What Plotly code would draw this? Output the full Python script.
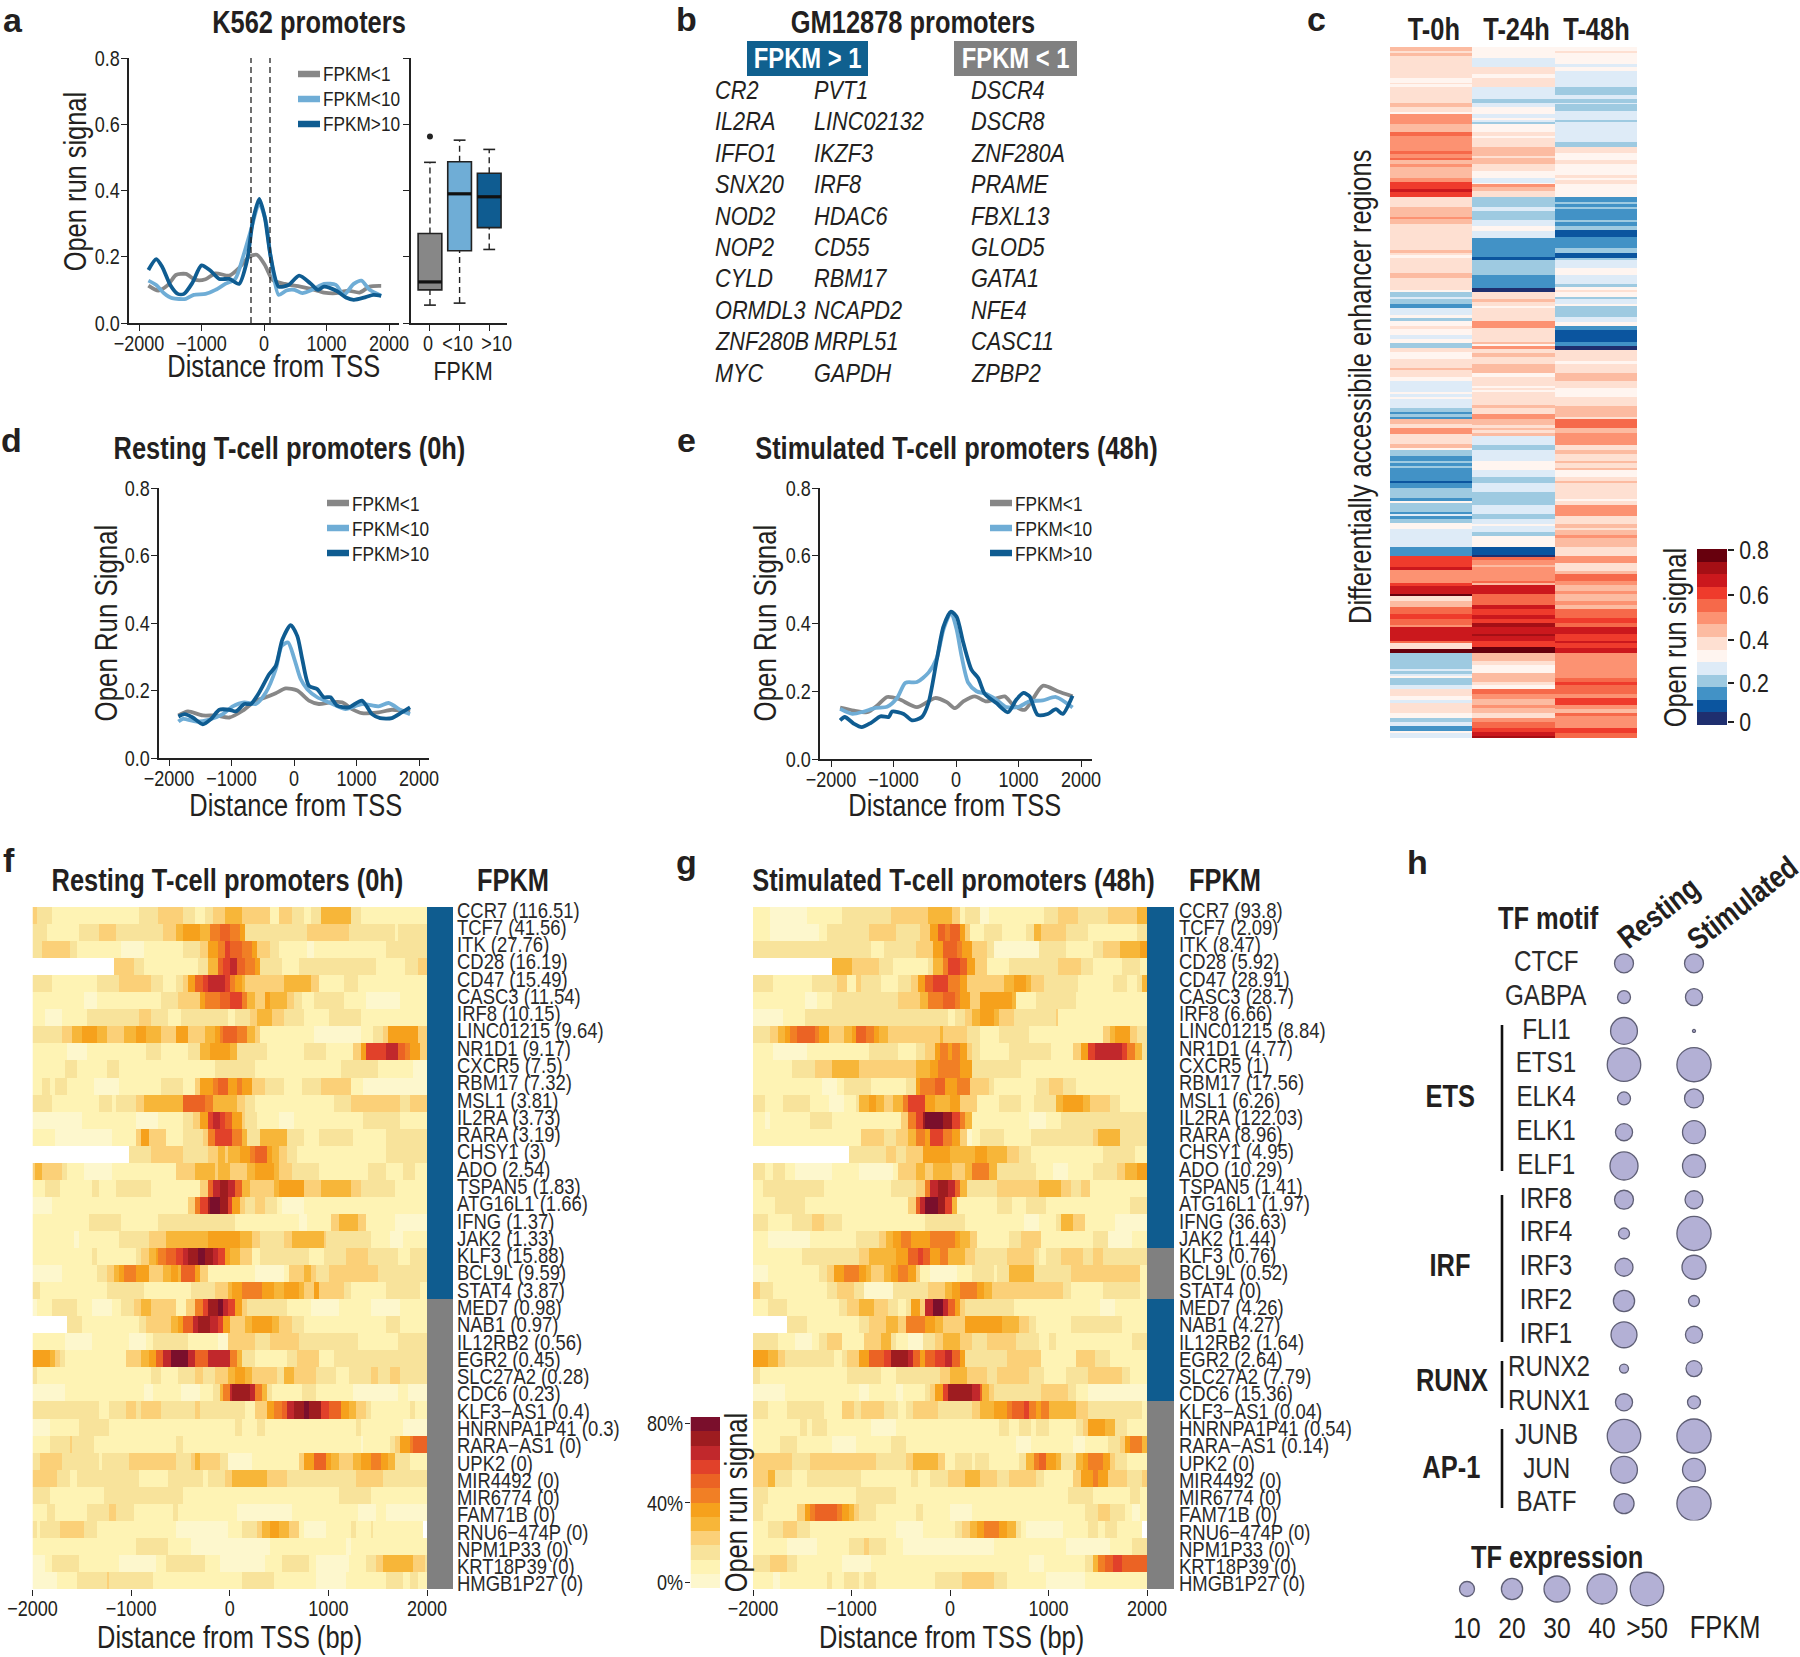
import numpy as np
import plotly.graph_objects as go

W, H = 1800, 1657
NARROW = "Liberation Sans"
INK = "#231f20"
DARK, LIGHT, GREY = "#0f5c91", "#6fadd6", "#878787"
TITLE = 31

# ---- line profiles: panel a ----
a_dark_x = [-1850,-1725,-1630,-1500,-1380,-1280,-1150,-1000,-870,-715,-555,-400,-270,-177,-76,12,107,234,392,562,740,866,960,1150,1310,1435,1625,1750,1875]
a_dark_y = [.16,.193,.17,.115,.088,.088,.12,.174,.16,.133,.133,.118,.19,.31,.375,.32,.2,.11,.115,.143,.12,.1,.11,.098,.077,.07,.078,.085,.082]
a_light_x = [-1850,-1725,-1600,-1470,-1250,-1125,-935,-777,-620,-460,-335,-210,-76,25,107,234,360,487,613,770,960,1150,1276,1435,1560,1690,1875]
a_light_y = [.128,.115,.09,.075,.073,.085,.088,.1,.118,.133,.2,.28,.362,.31,.2,.085,.098,.1,.09,.1,.118,.115,.085,.118,.128,.1,.082]
a_grey_x = [-1850,-1690,-1535,-1410,-1250,-1095,-935,-777,-555,-400,-240,-114,12,139,329,582,770,960,1150,1340,1530,1690,1875]
a_grey_y = [.113,.098,.115,.145,.148,.13,.132,.15,.143,.166,.2,.206,.176,.13,.118,.11,.102,.092,.09,.098,.092,.11,.112]
# ---- panel d ----
d_dark_x = [-1850,-1750,-1620,-1460,-1325,-1195,-1035,-930,-795,-690,-557,-398,-292,-186,-53,53,133,239,371,477,583,690,875,1087,1247,1379,1565,1724,1857]
d_dark_y = [.123,.13,.12,.10,.116,.143,.143,.138,.16,.16,.194,.248,.273,.351,.394,.361,.292,.214,.204,.18,.18,.155,.15,.17,.13,.118,.118,.135,.15]
d_light_x = [-1850,-1777,-1565,-1353,-1140,-981,-795,-610,-451,-292,-196,-95,0,106,212,371,557,822,1087,1353,1512,1724,1857]
d_light_y = [.108,.116,.108,.114,.13,.153,.165,.16,.194,.263,.332,.342,.297,.234,.204,.18,.165,.145,.16,.153,.163,.14,.13]
d_grey_x = [-1850,-1697,-1460,-1247,-1035,-822,-610,-451,-292,-133,53,239,398,583,769,928,1087,1353,1565,1857]
d_grey_y = [.126,.138,.126,.126,.12,.14,.17,.18,.192,.206,.2,.17,.16,.165,.165,.145,.133,.135,.143,.137]
# ---- panel e ----
e_dark_x = [-1854,-1780,-1632,-1510,-1367,-1208,-1075,-1022,-837,-705,-546,-440,-307,-201,-80,10,117,249,355,461,646,832,964,1080,1176,1308,1467,1600,1706,1865]
e_dark_y = [.114,.124,.104,.094,.106,.126,.124,.14,.133,.114,.124,.166,.293,.391,.435,.42,.343,.263,.239,.192,.165,.138,.175,.195,.185,.13,.133,.147,.133,.187]
e_light_x = [-1854,-1658,-1473,-1287,-1102,-943,-810,-625,-440,-307,-201,-80,10,90,196,328,487,646,805,990,1176,1388,1600,1865]
e_light_y = [.148,.133,.14,.151,.154,.18,.225,.227,.255,.298,.382,.432,.382,.303,.225,.2,.192,.175,.153,.153,.17,.173,.183,.152]
e_grey_x = [-1854,-1632,-1420,-1260,-1102,-916,-625,-334,-148,-16,117,302,487,779,911,1097,1388,1626,1865]
e_grey_y = [.152,.143,.138,.158,.183,.177,.153,.18,.168,.15,.17,.185,.17,.185,.16,.145,.216,.2,.185]

legend_labels = ["FPKM<1", "FPKM<10", "FPKM>10"]

# ---- boxplot panel a ----
box_labels = ["0", "<10", ">10"]
box_low = [.054, .06, .222]
box_q1 = [.10, .218, .288]
box_med = [.124, .39, .381]
box_q3 = [.27, .487, .452]
box_high = [.485, .552, .524]
box_outlier = [.563]

# ---- panel b ----
b_up_col1 = ["CR2","IL2RA","IFFO1","SNX20","NOD2","NOP2","CYLD","ORMDL3","ZNF280B","MYC"]
b_up_col2 = ["PVT1","LINC02132","IKZF3","IRF8","HDAC6","CD55","RBM17","NCAPD2","MRPL51","GAPDH"]
b_down = ["DSCR4","DSCR8","ZNF280A","PRAME","FBXL13","GLOD5","GATA1","NFE4","CASC11","ZPBP2"]

# ---- panel c: runs of (last row, colour level) ----
c_levels = ["#1f2f6f","#0b559f","#4292c6","#9ecae1","#deebf7","#fff5f0","#fee0d2","#fcbba1","#fc9272","#f6694a","#ef3b2c","#cb181d","#a50f15","#67000d"]
c_t0 = [4,7,6,6,9,7,31,6,36,5,37,6,40,5,56,6,60,7,65,6,67,5,77,8,85,7,89,9,104,8,107,9,111,8,113,9,117,7,120,8,131,7,135,8,139,10,142,10,145,11,150,10,160,6,170,7,172,8,177,7,203,6,206,7,208,6,211,5,226,6,231,7,
        243,6,245,5,250,3,252,4,257,3,261,2,268,4,271,5,274,3,279,5,282,6,288,5,292,4,296,5,301,3,305,6,312,5,321,6,323,7,330,6,334,5,345,4,347,5,350,4,352,5,361,4,365,3,367,2,370,3,372,2,377,7,381,6,387,8,395,6,397,6,401,7,403,5,409,3,414,2,416,3,419,2,421,3,434,2,436,1,441,2,451,3,454,2,456,5,465,3,
        467,2,469,4,472,2,476,3,482,5,500,4,509,2,520,10,523,11,536,8,539,10,547,11,549,13,554,6,560,7,567,9,572,10,578,9,580,8,594,11,596,9,602,6,606,13,622,3,624,4,627,3,629,4,631,5,638,3,642,4,649,6,653,5,656,4,666,6,671,5,675,3,679,4,684,2,686,5,691,4]
c_t24 = [11,5,20,4,27,6,31,5,40,6,52,4,56,3,60,4,67,5,71,4,73,5,75,4,77,3,85,5,89,6,91,5,100,6,109,7,111,6,117,7,124,6,131,5,136,4,137,5,140,8,144,7,150,6,160,3,164,4,173,3,179,4,184,5,191,4,210,2,213,1,228,3,
         241,2,245,0,252,6,255,7,259,6,261,5,274,6,281,8,295,6,297,7,299,5,302,8,306,6,310,7,317,6,326,7,330,5,339,6,341,5,343,6,345,5,358,6,361,7,367,6,372,8,378,7,381,6,383,7,386,6,389,7,398,4,403,3,414,4,423,5,430,4,436,3,445,4,458,3,465,4,
         467,4,472,3,477,4,479,5,485,4,489,3,500,5,508,1,510,0,513,9,518,8,520,7,534,8,536,9,538,7,547,11,558,9,562,11,568,10,572,11,576,10,580,12,587,11,589,12,594,11,600,10,606,13,614,7,618,6,626,5,635,7,638,6,642,5,647,9,652,8,658,7,661,8,666,7,671,6,675,8,681,9,685,10,689,11,691,12]
c_t48 = [4,5,6,6,17,5,20,4,24,5,40,4,48,3,52,4,56,3,57,4,64,3,73,4,75,3,95,4,100,3,106,6,113,5,117,6,128,5,131,6,133,5,137,6,150,5,155,2,157,3,160,2,162,3,173,2,175,3,179,2,183,3,190,1,201,2,206,3,211,1,213,3,221,4,228,5,233,4,
         237,4,240,3,243,5,245,6,250,5,252,3,257,4,259,5,270,3,275,4,279,5,283,2,295,1,299,2,303,0,314,6,317,5,326,6,334,7,341,6,350,5,359,6,370,7,372,6,381,9,386,7,398,8,403,6,407,7,414,6,416,7,421,6,423,7,430,5,434,6,436,7,452,6,454,5,458,6,465,8,
         469,8,477,6,481,7,483,6,488,7,491,8,500,7,509,6,516,8,524,6,527,7,534,9,538,8,544,7,547,8,554,7,558,8,562,7,571,9,576,10,580,9,587,11,594,10,596,11,601,10,606,11,631,8,635,9,638,10,647,9,651,8,658,10,662,8,666,7,669,9,681,8,686,10,691,9]
c_columns = ["T-0h", "T-24h", "T-48h"]

# ---- panels f, g ----
heat_levels = ["#fdf7cd","#fef3b4","#f8e39b","#fbd078","#f7b639","#f6a11c","#f17f25","#eb6324","#e1412a","#c1282c","#9e1c20","#7a0f2c"]
genes = ["CCR7","TCF7","ITK","CD28","CD47","CASC3","IRF8","LINC01215","NR1D1","CXCR5","RBM17","MSL1","IL2RA","RARA","CHSY1","ADO","TSPAN5","ATG16L1","IFNG","JAK2","KLF3","BCL9L","STAT4","MED7","NAB1","IL12RB2","EGR2","SLC27A2","CDC6","KLF3\u2212AS1","HNRNPA1P41","RARA\u2212AS1","UPK2","MIR4492","MIR6774","FAM71B","RNU6\u2212474P","NPM1P33","KRT18P39","HMGB1P27"]
f_fpkm = [116.51,41.56,27.76,16.19,15.49,11.54,10.15,9.64,9.17,7.5,7.32,3.81,3.73,3.19,3,2.54,1.83,1.66,1.37,1.33,15.88,9.59,3.87,.98,.97,.56,.45,.28,.23,.4,.3,0,0,0,0,0,0,0,0,0]
g_fpkm = [93.8,2.09,8.47,5.92,28.91,28.7,6.66,8.84,4.77,1,17.56,6.26,122.03,8.96,4.95,10.29,1.41,1.97,36.63,1.44,.76,.52,0,4.26,4.27,1.64,2.64,7.79,15.36,.04,.54,.14,0,0,0,0,0,0,0,0]

# rows as flat runs: end position (bp), level (-1 = no data)
f_rows = [
[-1950,3,-1790,2,-920,1,-713,2,-464,3,-360,2,-257,1,-174,2,-58,3,116,4,406,3,510,1,613,3,738,2,820,1,924,2,1235,4,1318,2,2000,1],
[-1853,2,-1521,1,-1314,2,-1160,3,-671,2,-547,3,-464,4,-298,5,-195,4,-112,6,-8,7,95,6,157,5,779,2,1194,3,1670,2,1712,1,2000,2],
[-1894,2,-1625,3,-1550,2,-1107,1,-879,0,-485,1,-298,2,-236,3,-133,5,-50,6,12,8,137,7,220,6,282,5,406,3,489,2,779,1,862,0,1567,1,2000,2],
[-1181,-1,-982,3,-870,2,-319,1,-236,2,-133,4,-70,7,12,8,75,9,157,7,240,6,303,5,520,2,688,1,1463,2,1774,1,1898,2,2000,3],
[-1791,2,-1355,1,-1119,2,-796,3,-671,2,-547,1,-473,2,-415,3,-348,5,-278,7,-216,8,-50,9,-8,8,54,6,116,5,157,4,551,3,821,4,895,3,1144,1,1297,2,2000,1],
[-1480,1,-1355,0,-705,1,-526,2,-298,3,-257,5,-91,6,12,7,116,8,178,6,261,4,344,3,406,5,584,4,655,3,717,2,854,1,1152,2,1380,1,1733,0,2000,1],
[-1873,1,-1708,0,-1459,1,-920,2,-796,3,-622,2,-497,1,-29,2,54,1,207,2,282,3,414,4,539,3,738,2,1007,1,1331,2,2000,1],
[-1708,2,-1592,3,-1500,4,-1343,5,-1244,4,-1086,3,-953,4,-846,5,-692,4,-539,3,-431,5,-257,3,-153,4,-112,5,-70,6,75,7,178,6,240,4,303,3,862,1,1318,0,1442,1,1546,2,1608,3,1898,5,2000,3],
[-1646,1,-1438,0,-858,1,-705,2,-415,1,-298,2,-207,4,12,5,83,4,373,2,759,1,986,2,1256,1,1318,3,1380,5,1587,8,1712,9,1774,7,1836,6,1919,5,2000,3],
[-1666,1,-1542,2,-1260,1,-1119,2,-141,1,261,2,1119,1,1505,2,1857,1,2000,0],
[-1907,1,-1832,2,-1770,1,-1646,2,-1376,1,-1127,0,-705,1,-485,2,-360,1,-298,3,-166,5,-124,6,-17,7,75,5,137,6,220,5,344,3,539,2,717,1,924,2,1007,3,1235,3,1360,1,2000,0],
[-1791,2,-1314,1,-1210,2,-1148,1,-962,2,-887,3,-622,4,-485,4,-257,7,-174,6,83,4,157,3,240,2,1049,1,1215,2,1724,3,1828,2,2000,3],
[-1500,0,-941,1,-734,0,-464,1,-381,2,-298,3,-216,5,-174,8,-91,9,-41,8,33,7,116,5,157,3,282,2,489,1,655,0,1339,1,1733,2,2000,1],
[-1770,1,-1190,0,-941,1,-899,3,-817,5,-651,3,-464,1,-278,2,-216,3,-153,6,33,8,116,6,178,4,303,2,572,4,759,2,904,1,1256,2,1567,1,2000,2],
[-1024,-1,-788,2,-464,3,-236,2,-133,3,-58,4,-29,3,108,4,199,5,240,6,385,7,427,5,489,4,572,3,676,2,1587,1,2000,2],
[-1965,3,-1894,4,-1700,3,-1646,2,-1480,1,-1210,0,-547,1,-348,3,-153,4,-133,3,12,4,166,3,240,4,439,5,510,4,634,3,904,2,1401,1,1587,2,1753,1,1878,2,2000,1],
[-1873,1,-1716,2,-1397,1,-1314,2,-1148,1,-796,2,-298,1,-236,3,-174,7,-91,9,-29,10,54,9,116,7,207,4,439,3,489,4,759,5,924,3,1235,4,1318,3,1670,2,2000,1],
[-1799,0,-423,1,-348,3,-290,6,-236,8,-195,10,-112,11,-29,10,33,8,95,5,157,3,240,2,344,3,468,2,530,1,738,0,2000,1],
[-1426,1,-1107,2,-734,1,54,2,696,1,779,0,1028,1,1090,3,1310,4,1380,3,1670,1,2000,0],
[-1583,1,-1521,0,-1119,1,-837,2,-651,3,-216,4,108,5,220,4,303,3,551,2,622,3,945,4,986,3,1422,2,1629,1,1753,0,2000,1],
[-1397,1,-1343,2,-962,1,-899,2,-817,3,-754,4,-713,5,-651,6,-547,7,-485,8,-423,9,-332,10,-257,11,-174,10,-124,9,-58,8,12,5,95,4,220,3,303,1,800,2,945,1,1173,2,1393,3,1712,2,1815,1,2000,2],
[-1708,0,-1343,1,-1244,2,-1177,3,-1127,4,-1065,5,-962,6,-837,5,-680,3,-609,4,-526,5,-506,4,-360,7,-298,5,-236,3,240,1,539,0,593,1,759,3,821,4,883,3,1007,2,1505,3,2000,2],
[-1936,2,-1244,1,-879,2,-402,1,-141,2,-29,3,33,4,116,5,315,6,456,5,551,4,688,5,759,4,862,3,895,5,1144,3,1214,2,1567,1,1932,2,2000,1],
[-1948,0,-1799,1,-1550,2,-1409,1,-1190,0,-1107,1,-970,2,-899,3,-804,4,-547,3,-444,1,-360,3,-278,6,-216,8,-133,10,-70,11,-29,9,54,8,116,5,178,3,564,2,829,1,1111,0,1422,1,1733,0,2000,1],
[-1654,-1,-1500,2,-920,1,-846,2,-609,3,-526,4,-464,5,-381,7,-319,9,-195,10,-133,9,-70,8,-8,5,157,3,220,4,427,5,489,4,613,3,738,2,1567,1,1733,2,2000,1],
[-1687,1,-1409,0,-1024,1,-858,0,-775,1,-415,2,-133,1,-29,0,261,3,406,2,696,3,1297,2,1712,1,2000,2],
[-1832,5,-1770,4,-1716,3,-1666,2,-1045,1,-899,3,-817,4,-754,5,-684,7,-609,9,-423,11,-348,9,-236,7,12,9,75,6,137,4,240,2,572,1,663,2,895,3,1049,1,2000,2],
[-1948,2,-788,1,-705,2,-526,1,-348,2,-278,3,-141,2,-29,3,54,4,157,5,220,4,468,3,539,2,647,4,870,3,1069,2,1194,1,1422,2,1505,3,1629,2,1733,3,2000,2],
[-1687,0,-879,1,-763,0,-497,1,-298,0,-174,1,-112,2,-70,4,-8,6,33,9,199,10,261,9,323,6,385,4,427,2,730,1,870,2,1256,1,1712,0,1795,1,2000,0],
[-1335,2,-1231,1,-1045,2,-953,3,-912,2,-705,3,-348,2,-307,3,157,2,240,1,373,3,456,5,531,6,572,7,647,9,738,10,800,11,924,10,1007,8,1132,7,1202,5,1277,4,1380,3,1422,2,1815,1,1878,2,2000,1],
[-1832,0,-1521,1,-1231,2,54,1,116,2,282,1,344,2,1277,1,1326,2,1753,1,2000,0],
[-1832,1,-1625,2,-1604,3,-1368,2,-547,1,-464,2,1326,1,1360,0,1617,1,1670,2,1733,3,1815,5,1849,6,2000,7],
[-1923,2,-1700,3,-1314,2,-1293,1,-1024,2,-539,3,-402,2,-348,3,-290,4,-112,3,-29,2,220,0,696,1,759,3,841,5,986,7,1036,5,1103,4,1256,3,1318,4,1422,5,1525,6,1600,5,1670,4,1828,2,2000,1],
[-1741,3,-1633,2,-1550,1,-920,2,-630,1,-278,2,-236,1,-58,2,25,3,373,4,584,3,1277,2,1546,3,2000,2],
[-1832,2,-1273,1,-485,2,1111,1,1434,2,2000,1],
[-1840,1,-1770,2,-1451,1,-1231,2,-1148,3,-970,2,-568,1,-526,2,75,1,634,0,1289,1,1463,0,1587,1,2000,0],
[-1948,2,-1923,1,-1716,2,-1480,3,-1347,2,-539,1,-17,0,137,1,274,2,323,3,398,4,489,5,593,4,696,3,759,1,978,0,1214,1,1268,2,1422,1,1451,2,1952,1,2000,-1],
[-962,1,-618,2,-390,1,398,0,1173,1,1227,0,2000,1],
[-1882,0,-1791,1,-1521,2,-1127,1,-746,0,-638,1,-257,2,-112,1,344,0,531,1,800,2,883,1,1194,0,1380,1,1484,2,1546,3,1857,4,1981,3,2000,2],
[-1749,0,-1550,1,-1260,2,-1231,3,-775,2,137,1,439,2,883,1,1173,0,1463,1,1484,2,1575,1,1753,2,1824,1,1907,2,2000,1],
]
g_rows = [
[-1821,1,-1448,0,-1108,1,-610,2,-214,3,19,4,98,3,158,1,289,2,400,0,950,1,1099,2,1299,3,1602,2,1905,3,2000,4],
[-1821,1,-1332,0,-1239,1,-820,2,-540,3,-307,2,-191,3,-121,5,-51,7,-5,6,88,7,158,5,205,3,345,1,531,2,787,1,857,2,927,4,1183,3,1392,2,1905,1,2000,2],
[-796,2,-680,1,-354,2,-168,3,-75,5,65,7,135,6,214,5,368,3,438,2,903,0,1183,2,1462,1,1555,2,1718,3,1928,4,2000,5],
[-1192,-1,-1006,4,-736,3,-563,2,-237,1,-168,2,-75,4,-28,6,112,8,182,7,242,5,368,3,601,1,1099,2,1332,3,1462,2,1742,1,1928,2,2000,1],
[-1807,2,-1388,1,-1146,2,-1052,3,-959,1,-889,3,-689,2,-517,1,-400,2,-331,3,-261,5,-168,7,-19,8,112,6,182,5,554,3,647,4,764,5,834,4,941,3,1299,2,1649,1,1788,2,1905,1,1951,2,2000,4],
[-1472,1,-1355,0,-1192,1,-517,2,-307,3,-214,4,-75,6,42,7,112,6,205,5,289,3,624,5,671,4,880,1,1276,2,2000,1],
[-1704,0,-1472,1,-28,2,42,1,158,2,228,3,298,4,438,5,508,4,647,3,1066,2,1099,3,2000,1],
[-1835,2,-1760,3,-1681,4,-1621,5,-1541,6,-1378,7,-1323,6,-1215,5,-1076,3,-1006,4,-959,5,-843,7,-773,6,-717,5,-633,4,-98,3,-75,4,168,3,307,2,508,1,810,2,1555,1,1625,3,1672,4,1835,5,1905,3,2000,2],
[-1807,1,-1448,0,-820,1,-531,2,-354,1,-251,2,-158,3,-98,5,-37,6,19,5,112,6,168,5,228,3,298,2,601,1,1020,2,1253,1,1323,3,1392,5,1486,8,1742,9,1812,8,1881,6,1951,4,2000,2],
[-1611,1,-1378,2,-1201,3,-913,4,-340,3,-191,4,-121,5,112,6,228,5,717,2,2000,1],
[-1309,1,-1155,0,-1085,1,-796,2,-447,1,-354,2,-298,5,-144,6,-51,7,75,5,196,6,391,3,461,2,866,1,997,2,1146,3,1285,2,2000,1],
[-1881,2,-1695,1,-1425,2,-1215,1,-1076,0,-959,1,-913,2,-820,4,-750,5,-666,4,-563,3,-484,4,-424,6,-261,8,-144,5,-5,4,88,5,275,3,494,1,717,2,857,1,1066,2,1160,4,1346,5,1416,4,1625,3,1718,2,2000,1],
[-1881,1,-1835,0,-1416,1,-1192,2,-494,1,-424,3,-354,6,-284,8,-238,10,-75,11,19,10,88,8,158,6,228,4,810,1,973,0,1113,1,2000,2],
[-903,1,-680,3,-540,2,-424,3,-354,4,-238,6,-191,5,-65,8,19,6,88,5,168,3,228,0,289,1,554,2,834,1,1439,2,1509,3,1732,4,2000,2],
[-1020,-1,-657,2,-550,3,-447,2,-284,3,-5,5,251,4,368,5,568,4,708,3,834,2,1555,1,1872,2,2000,1],
[-1881,2,-1807,1,-1681,2,-1565,1,-1192,0,-913,1,-587,0,-531,1,-354,3,-251,4,-168,3,19,4,158,3,228,4,391,6,475,4,880,2,1043,1,1206,0,1462,1,1695,2,1779,3,1905,4,2000,5],
[-1900,1,-1285,2,-610,1,-354,2,-251,3,-191,6,-121,9,-28,10,42,9,112,7,168,4,484,2,903,3,1136,4,1229,3,1322,2,1416,3,2000,1],
[-1774,1,-1472,2,-424,1,-354,3,-298,7,-238,9,-121,11,-51,10,19,8,75,4,484,1,624,2,787,1,973,2,1835,1,2000,2],
[-1844,2,-1602,1,-1402,2,-1271,3,-1099,2,-261,1,158,2,740,1,903,0,1066,1,1136,2,1253,4,1369,3,1672,1,2000,0],
[-1853,1,-1416,0,-959,1,-727,2,-657,3,-587,4,-494,5,-400,6,-191,5,56,6,112,5,196,4,275,3,601,1,717,2,927,3,1439,1,1602,2,1858,0,2000,1],
[-1495,1,-936,2,-820,3,-540,4,-424,5,-331,7,-284,8,-191,7,-112,5,-19,6,158,4,242,3,577,2,848,3,903,2,973,1,1136,2,1346,3,1439,2,1555,3,2000,2],
[-1844,0,-1332,1,-1239,2,-1183,3,-1076,5,-922,6,-843,5,-796,4,-671,3,-596,4,-517,5,-424,6,-354,5,-298,3,-205,1,75,0,228,1,438,2,484,1,601,2,848,4,1220,2,1919,3,2000,1],
[-1914,3,-1807,2,-1262,1,-1146,2,-969,3,-866,2,-587,0,-214,2,-51,3,19,4,88,5,275,6,345,5,415,4,1146,3,1220,2,1555,1,1919,2,2000,1],
[-1853,1,-1649,2,-1122,1,-1043,2,-936,3,-782,4,-633,3,-517,2,-447,1,-400,2,-307,5,-251,3,-168,9,-75,11,-28,9,42,7,112,5,158,3,647,2,1532,1,1672,0,2000,1],
[-1658,-1,-1448,2,-922,1,-829,2,-657,3,-517,4,-456,3,-251,6,-158,5,-75,4,149,3,531,5,694,4,810,3,880,2,1229,1,1742,2,2000,1],
[-1760,2,-1565,1,-1402,0,-1332,1,-1239,2,-1099,3,-866,1,-703,3,-610,4,-540,2,-424,1,-284,0,-144,2,-75,3,112,4,214,3,368,2,671,3,894,2,997,1,1066,2,1858,1,2000,2],
[-1844,5,-1760,4,-1681,3,-1169,2,-1108,1,-1052,2,-913,3,-820,5,-680,7,-610,8,-424,10,-363,9,-307,7,-238,5,-144,7,-51,8,19,9,88,7,158,5,577,2,913,3,1267,1,1486,3,1625,2,2000,1],
[-1928,2,-1062,1,-689,2,-550,1,-98,2,-5,3,182,4,368,3,484,2,810,3,950,2,1183,1,1392,2,1742,3,1835,2,2000,1],
[-1681,0,-922,1,-829,0,-540,1,-470,0,-261,1,-191,2,-144,3,-84,5,-28,8,228,10,289,9,321,7,391,4,447,3,927,2,1206,3,1276,2,1392,1,2000,0],
[-1853,2,-1658,1,-1285,2,-1099,1,-983,3,-903,2,-680,3,-517,2,-456,1,-377,2,-121,3,228,2,307,3,461,4,577,5,633,6,740,7,801,8,880,6,927,5,997,6,1276,4,1406,3,1951,2,2000,1],
[-1518,1,-1448,2,-1388,1,-1262,2,-796,1,-550,0,494,1,601,2,708,1,820,2,880,1,997,2,1276,1,1346,2,1406,3,1579,5,1672,4,1798,2,2000,1],
[-1714,1,-1541,2,-1192,1,-959,0,-610,1,-456,2,680,1,834,0,1253,1,1369,0,1602,1,1732,2,1779,3,1835,5,1951,6,2000,4],
[-1597,3,-1434,2,-750,3,-447,2,-363,3,-121,4,-51,3,42,1,228,2,251,1,400,2,694,1,787,2,848,4,903,6,987,7,1066,5,1136,4,1276,2,1346,4,1392,5,1555,6,1625,5,1672,3,1798,2,2000,1],
[-1844,3,-1774,4,-1704,2,-1588,2,-1462,1,-903,2,-410,1,-331,2,-205,1,-19,2,149,3,289,4,484,3,601,2,880,3,950,2,1253,1,1323,3,1453,5,1509,6,1602,5,1788,3,1951,2,2000,3],
[-1853,2,-959,1,-540,2,1206,1,1462,2,1835,1,1928,2,2000,1],
[-1900,2,-1541,1,-1481,3,-1425,5,-1369,6,-1146,7,-1090,6,-1029,5,-969,4,-913,3,-750,2,-354,1,-284,2,-5,1,228,0,1369,1,1509,2,1625,3,1765,2,1858,1,1928,0,2000,1],
[-1853,1,-1704,2,-1555,3,-1416,2,-550,1,-284,0,42,1,135,2,205,3,275,4,345,5,508,6,577,5,680,4,717,2,764,1,1146,0,1406,1,1500,2,1579,1,1695,2,1951,1,2000,-1],
[-1658,1,-1355,0,-1015,1,-866,2,-820,3,-643,2,-470,1,461,0,1183,1,1625,0,1858,1,2000,2],
[-1835,2,-1658,3,-1541,2,-1090,1,-796,0,810,1,941,0,1369,1,1439,2,1509,4,1579,6,1649,7,1742,8,2000,7],
[-1798,1,-1728,0,-1262,1,-1192,2,-1066,1,-922,2,-880,1,-750,2,-144,1,121,2,438,3,568,2,973,1,1369,0,2000,1],
]

# ---- panel h ----
tf_names = ["CTCF","GABPA","FLI1","ETS1","ELK4","ELK1","ELF1","IRF8","IRF4","IRF3","IRF2","IRF1","RUNX2","RUNX1","JUNB","JUN","BATF"]
tf_resting = [16,7.5,32,50,7.5,13,35,16,5.4,14.4,20,30,3.6,13,50,32,18]
tf_stimulated = [16,13,0.4,52,16,23.5,23.5,14.4,52,25.6,5.4,13,11.4,7.5,52,23.5,52]
tf_scale_values = [10,20,30,40,50]
tf_scale_labels = ["10","20","30","40",">50"]
tf_groups = ["ETS","IRF","RUNX","AP-1"]

fig = go.Figure()
annotations, shapes, layout = [], [], {}
axis_no = [0]

def add_axes(x0, x1, y0, y1, xr, yr, xkw=None, ykw=None):
    axis_no[0] += 1
    n = axis_no[0]
    sx = "" if n == 1 else str(n)
    base = dict(showgrid=False, zeroline=False, showline=False, ticks="", showticklabels=False,
                fixedrange=True, layer="above traces", tickangle=0,
                tickfont=dict(family=NARROW, size=22, color=INK))
    layout["xaxis" + sx] = {**base, "domain": [x0 / W, x1 / W], "range": xr, "anchor": "y" + sx, **(xkw or {})}
    layout["yaxis" + sx] = {**base, "domain": [1 - y1 / H, 1 - y0 / H], "range": yr, "anchor": "x" + sx, **(ykw or {})}
    return "x" + sx, "y" + sx

def text(s, px, py, size=22, bold=False, italic=False, color=INK, family=NARROW, angle=0, anchor="center", xref=None, yref=None, x=None, y=None, yshift=0):
    if bold:
        s = "<b>%s</b>" % s
    if italic:
        s = "<i>%s</i>" % s
    annotations.append(dict(text=s, x=(px / W if x is None else x), y=(1 - py / H if y is None else y),
                            xref=xref or "paper", yref=yref or "paper", showarrow=False,
                            font=dict(family=family, size=size, color=color), textangle=angle,
                            xanchor=anchor, yanchor="middle", yshift=yshift))

def pbox(x0, y0, x1, y1, **kw):
    shapes.append(dict(type="rect", xref="paper", yref="paper", x0=x0 / W, x1=x1 / W, y0=1 - y1 / H, y1=1 - y0 / H, **kw))

def pline(x0, y0, x1, y1, color, width, dash="solid"):
    shapes.append(dict(type="line", xref="paper", yref="paper", x0=x0 / W, x1=x1 / W, y0=1 - y1 / H, y1=1 - y0 / H,
                       line=dict(color=color, width=width, dash=dash)))

def stepped(colors):
    n = len(colors)
    out = []
    for i, c in enumerate(colors):
        out += [[i / n, c], [(i + 1) / n, c]]
    return out

axis_line = dict(showline=True, linecolor="#222222", linewidth=1.6, ticks="outside", ticklen=6, tickwidth=1.4,
                 tickcolor="#222222", showticklabels=True)
xticks = dict(tickvals=[-2000, -1000, 0, 1000, 2000], ticktext=["\u22122000", "\u22121000", "0", "1000", "2000"])
yticks = dict(tickvals=[0, .2, .4, .6, .8], ticktext=["0.0", "0.2", "0.4", "0.6", "0.8"])

def profile(x0, x1, y0, y1, xr, series, leg_x, leg_y, lw):
    xa, ya = add_axes(x0, x1, y0, y1, xr, [0, .8], {**axis_line, **xticks, "ticklabelstandoff": -6},
                      {**axis_line, **yticks, "ticklabelstandoff": -3})
    for (sx, sy), col in zip(series, [GREY, LIGHT, DARK]):
        fig.add_trace(go.Scatter(x=sx, y=sy, mode="lines", xaxis=xa, yaxis=ya, showlegend=False,
                                 line=dict(color=col, width=lw, shape="spline", smoothing=0.7)))
    for i, (lab, col) in enumerate(zip(legend_labels, [GREY, LIGHT, DARK])):
        ly = leg_y + i * 25
        shapes.append(dict(type="line", xref="paper", yref="paper", x0=leg_x / W, x1=(leg_x + 22) / W,
                           y0=1 - ly / H, y1=1 - ly / H, line=dict(color=col, width=6.5)))
        text(lab, leg_x + 23, ly, size=21, anchor="left")
    return xa, ya

# panel a
xa, ya = profile(129, 399, 58, 323, [-2160, 2160], [(a_grey_x, a_grey_y), (a_light_x, a_light_y), (a_dark_x, a_dark_y)], 298, 74, 3.8)
for v in [-208, 96]:
    shapes.append(dict(type="line", xref=xa, yref=ya, x0=v, x1=v, y0=0, y1=.8, line=dict(color="#222222", width=1.3, dash="6px,4px")))
text("K562 promoters", 309, 23, size=TITLE, bold=True)
text("Open run signal", 75, 182, size=31, angle=-90)
text("Distance from TSS", 274, 366, size=31)

# box
bx, by = add_axes(411, 507, 58, 323, [-0.64, 2.6], [0, .8],
                  {**axis_line, "tickvals": [0, 1, 2], "showticklabels": False},
                  {**axis_line, "tickvals": [0, .2, .4, .6, .8], "showticklabels": False})
for lab, px in zip(box_labels, [428, 458, 497]):
    text(lab.replace("<", "&lt;").replace(">", "&gt;"), px, 343, size=22)
for i, col in enumerate([GREY, LIGHT, DARK]):
    for lo, hi in [(box_low[i], box_q1[i]), (box_q3[i], box_high[i])]:
        fig.add_trace(go.Scatter(x=[i, i], y=[lo, hi], mode="lines", xaxis=bx, yaxis=by, showlegend=False,
                                 line=dict(color="#222222", width=1.4, dash="6px,4px")))
    for v in [box_low[i], box_high[i]]:
        fig.add_trace(go.Scatter(x=[i - .2, i + .2], y=[v, v], mode="lines", xaxis=bx, yaxis=by, showlegend=False,
                                 line=dict(color="#222222", width=1.6)))
    fig.add_trace(go.Box(x=[i], q1=[box_q1[i]], median=[box_med[i]], q3=[box_q3[i]], lowerfence=[box_q1[i]], upperfence=[box_q3[i]],
                         width=.8, fillcolor=col, line=dict(color="#222222", width=1.6), xaxis=bx, yaxis=by, showlegend=False, boxpoints=False))
    fig.add_trace(go.Scatter(x=[i - .4, i + .4], y=[box_med[i], box_med[i]], mode="lines", xaxis=bx, yaxis=by, showlegend=False,
                             line=dict(color="#111111", width=3.2)))
fig.add_trace(go.Scatter(x=[0], y=box_outlier, mode="markers", xaxis=bx, yaxis=by, showlegend=False,
                         marker=dict(color="#222222", size=6)))
text("FPKM", 463, 371, size=26)

# panel b
text("GM12878 promoters", 913, 23, size=TITLE, bold=True)
pbox(747, 41, 868, 76, fillcolor="#10608f", line_width=0)
pbox(954, 41, 1077, 76, fillcolor="#808080", line_width=0)
text("FPKM &gt; 1", 807, 58, size=29, bold=True, color="white")
text("FPKM &lt; 1", 1015, 58, size=29, bold=True, color="white")
for col, px in [(b_up_col1, 713), (b_up_col2, 812), (b_down, 969)]:
    for i, g in enumerate(col):
        text(g, px, 90 + i * 31.4, size=26.5, italic=True, anchor="left")

# panel c
def expand_runs(runs):
    out = []
    start = 0
    for end, lev in zip(runs[0::2], runs[1::2]):
        out += [lev] * (end - start)
        start = end
    return out

c_z = np.array([expand_runs(c_t0), expand_runs(c_t24), expand_runs(c_t48)]).T
nrows_c = c_z.shape[0]
cx, cy = add_axes(1390, 1637, 47, 738, [-.5, 2.5], [nrows_c - .5, -.5])
fig.add_trace(go.Heatmap(z=c_z, x=[0, 1, 2], y=list(range(nrows_c)), xaxis=cx, yaxis=cy, showscale=False,
                         colorscale=stepped(c_levels), zmin=-.5, zmax=13.5, hoverinfo="skip"))
for lab, px in zip(c_columns, [1434, 1516, 1596]):
    text(lab, px, 29, size=TITLE, bold=True)
text("Differentially accessibile enhancer regions", 1360, 387, size=31, angle=-90)
ccx, ccy = add_axes(1697, 1727, 549, 725, [-.5, .5], [-.014, .805],
                    None, {"side": "right", "ticks": "outside", "ticklen": 6, "tickwidth": 1.6, "tickcolor": "#222222",
                           "showticklabels": True, "tickvals": [0, .181, .381, .59, .8], "ticktext": ["0", "0.2", "0.4", "0.6", "0.8"],
                           "tickfont": dict(family=NARROW, size=26, color=INK)})
fig.add_trace(go.Heatmap(z=[[k] for k in range(14)], x=[0], y0=-.014 + .0585 * .5, dy=.0585, xaxis=ccx, yaxis=ccy, showscale=False,
                         colorscale=stepped(c_levels), zmin=-.5, zmax=13.5, hoverinfo="skip"))
text("Open run signal", 1676, 638, size=31, angle=-90)

# panel d, e
profile(159, 429, 488, 758, [-2160, 2160], [(d_grey_x, d_grey_y), (d_light_x, d_light_y), (d_dark_x, d_dark_y)], 327, 503, 3.8)
text("Resting T-cell promoters (0h)", 289, 448, size=TITLE, bold=True)
text("Open Run Signal", 106, 623, size=31.5, angle=-90)
text("Distance from TSS", 296, 805, size=31)
profile(820, 1092, 488, 759, [-2176, 2176], [(e_grey_x, e_grey_y), (e_light_x, e_light_y), (e_dark_x, e_dark_y)], 990, 503, 3.8)
text("Stimulated T-cell promoters (48h)", 956, 448, size=TITLE, bold=True)
text("Open Run Signal", 765, 623, size=31.5, angle=-90)
text("Distance from TSS", 955, 805, size=31)

# panels f, g
bins = np.arange(-2000, 2000, 25)
centres = bins + 12.5

def heat_row(runs):
    row = np.full(len(bins), np.nan)
    start = -2000
    for end, lev in zip(runs[0::2], runs[1::2]):
        mask = (centres >= start) & (centres < end)
        row[mask] = np.nan if lev < 0 else lev
        start = end
    return row

def heat_panel(rows, fpkm, x0, x1, bar_x1, label_x):
    xa, ya = add_axes(x0, x1, 907, 1589, [-2000, 2000], [39.5, -.5],
                      {"showticklabels": True, "ticks": "outside", "ticklen": 6, "tickwidth": 1.4, "tickcolor": "#222222", **xticks, "ticklabelstandoff": -6})
    fig.add_trace(go.Heatmap(z=np.array([heat_row(r) for r in rows]), x=centres, y=list(range(40)), xaxis=xa, yaxis=ya,
                             showscale=False, colorscale=stepped(heat_levels), zmin=-.5, zmax=11.5, hoverinfo="skip"))
    bxa, bya = add_axes(x1, bar_x1, 907, 1589, [-.5, .5], [39.5, -.5])
    fig.add_trace(go.Heatmap(z=[[1 if v >= 1 else 0] for v in fpkm], x=[0], y=list(range(40)), xaxis=bxa, yaxis=bya, showscale=False,
                             colorscale=[[0, "#808080"], [.5, "#808080"], [.5, "#0f5c8f"], [1, "#0f5c8f"]], zmin=0, zmax=1, hoverinfo="skip"))
    for i, (g, v) in enumerate(zip(genes, fpkm)):
        text(f"{g} ({v:g})", label_x, 0, size=22.5, anchor="left", yref=bya, y=i, yshift=5.5 - 9 * i / 39, color="#2a2a2a")

heat_panel(f_rows, f_fpkm, 32.5, 427, 453, 455)
heat_panel(g_rows, g_fpkm, 753, 1147, 1174, 1176.5)
text("Resting T-cell promoters (0h)", 227, 880, size=TITLE, bold=True)
text("FPKM", 513, 880, size=TITLE, bold=True)
text("Stimulated T-cell promoters (48h)", 953, 880, size=TITLE, bold=True)
text("FPKM", 1225, 880, size=TITLE, bold=True)
text("Distance from TSS (bp)", 230, 1637, size=31)
text("Distance from TSS (bp)", 951, 1637, size=31)

gx, gy = add_axes(690.5, 720, 1417, 1588, [-.5, .5], [-3, 83.4], None,
                  {"showticklabels": True, "ticks": "outside", "ticklen": 5, "tickwidth": 1.4, "tickcolor": "#222222",
                   "tickvals": [0, 40, 80], "ticktext": ["0%", "40%", "80%"], "ticklabelstandoff": -3,
                   "tickfont": dict(family=NARROW, size=22, color=INK)})
fig.add_trace(go.Heatmap(z=[[k] for k in range(12)], x=[0], y0=.6, dy=7.2, xaxis=gx, yaxis=gy, showscale=False,
                         colorscale=stepped(heat_levels), zmin=-.5, zmax=11.5, hoverinfo="skip"))
text("Open run signal", 736, 1503, size=31, angle=-90)

# panel h
BUBBLE = "#9490c4"
def bubble(v):
    return 4.74 * np.sqrt(np.array(v, dtype=float))

hx, hy = add_axes(1589, 1729, 946.5, 1520.5, [-.5, 1.5], [16.5, -.5])
rows_h = list(range(len(tf_names)))
for pos, vals in enumerate([tf_resting, tf_stimulated]):
    fig.add_trace(go.Scatter(x=[pos] * len(vals), y=rows_h, mode="markers", xaxis=hx, yaxis=hy, showlegend=False,
                             marker=dict(size=bubble(vals), color=BUBBLE, line=dict(color="#1c1c3c", width=1.3))))
for i, name in enumerate(tf_names):
    text(name, 1549 if name.startswith("RUNX") else 1546, 0, size=29.5, yref=hy, y=i - .08, color="#2a2a2a")
text("TF motif", 1548, 918, size=TITLE, bold=True)
text("Resting", 1659, 913, size=TITLE, bold=True, angle=-38)
text("Stimulated", 1742, 903, size=TITLE, bold=True, angle=-38)
for lab, px, py in zip(tf_groups, [1450, 1450, 1452, 1451], [1096, 1265, 1380, 1467]):
    text(lab, px, py, size=TITLE, bold=True)
for y0, y1 in [(1025, 1171), (1195, 1342), (1361, 1408), (1429, 1508)]:
    pline(1502, y0, 1502, y1, "#111111", 2.6)
text("TF expression", 1557, 1557, size=TITLE, bold=True)
sx, sy = add_axes(1444.5, 1669.5, 1569, 1609, [-.5, 4.5], [-1, 1],
                  {"showticklabels": True, "tickvals": list(range(5)), "ticktext": tf_scale_labels,
                   "tickfont": dict(family=NARROW, size=30, color=INK), "ticklabelstandoff": -2})
fig.add_trace(go.Scatter(x=list(range(5)), y=[0] * 5, mode="markers", xaxis=sx, yaxis=sy, showlegend=False,
                         marker=dict(size=bubble(tf_scale_values), color=BUBBLE, line=dict(color="#1c1c3c", width=1.3))))
text("FPKM", 1725, 1627, size=31)

# panel letters
for lab, px, py in [("a", 13, 20), ("b", 686, 19), ("c", 1316, 19), ("d", 11, 440), ("e", 686, 440), ("f", 9, 860), ("g", 686, 862), ("h", 1417, 862)]:
    text(lab, px, py, size=34, bold=True, family="Liberation Sans")

fig.update_layout(width=W, height=H, margin=dict(l=0, r=0, t=0, b=0, autoexpand=False), paper_bgcolor="white", plot_bgcolor="white",
                  showlegend=False, annotations=annotations, shapes=shapes, **layout)

# the reference's lettering is a condensed sans: draw the installed sans at 82% width
squeeze = """
document.body.style.margin='0';
document.documentElement.style.overflow='hidden';
var K = 0.82;
var gd = document.querySelector('.plotly-graph-div');
document.querySelectorAll('.annotation').forEach(function(g){
  var a = gd.layout.annotations[+g.getAttribute('data-index')];
  var t = g.querySelector('text');
  if (!a || !t || a.xanchor !== 'left') return;
  var w = t.getComputedTextLength();
  t.setAttribute('x', (parseFloat(t.getAttribute('x') || 0) - w * (1 - K) / 2).toFixed(2));
});
document.querySelectorAll('svg text').forEach(function(t){
  if (parseFloat(getComputedStyle(t).fontSize) >= 34) return;
  var w = t.getComputedTextLength();
  if (w > 0) { t.setAttribute('textLength', (w * K).toFixed(2)); t.setAttribute('lengthAdjust', 'spacingAndGlyphs'); }
});
"""
fig.write_html("out.html", config=dict(displayModeBar=False), post_script=squeeze)
